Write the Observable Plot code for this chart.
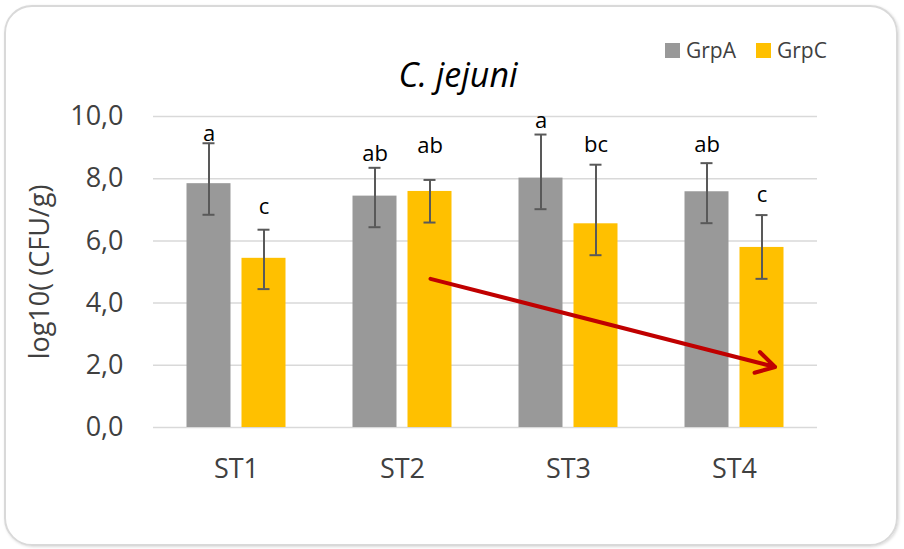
<!DOCTYPE html>
<html><head><meta charset="utf-8">
<script src="https://cdn.jsdelivr.net/npm/d3@7"></script>
<script src="https://cdn.jsdelivr.net/npm/@observablehq/plot@0.6"></script>
<style>
body{margin:0;background:#fff;font-family:"Open Sans",sans-serif;}
#wrap{position:relative;width:904px;height:549px;overflow:hidden;}
#box{position:absolute;left:4px;top:5px;width:890px;height:537px;border:2px solid #d9d9d9;border-radius:28px;box-shadow:1px 1px 3px rgba(0,0,0,0.15);}
#header{position:relative;height:100px;}
#title{position:absolute;left:0;width:916px;top:57px;text-align:center;font-style:italic;font-size:34px;line-height:34px;color:#000;}
#legend{position:absolute;left:665px;top:40px;display:flex;align-items:center;font-size:21px;line-height:21px;color:#404040;}
.sw{width:15px;height:15px;display:inline-block;margin-right:6px;}
#chart{position:relative;}
</style></head>
<body><div id="wrap"><div id="box"></div><div id="header"><div id="legend"></div><div id="title">C. jejuni</div></div><div id="chart"></div></div>
<script>
const categories = ["ST1", "ST2", "ST3", "ST4"];
const groups = ["GrpA", "GrpC"];
const groupColors = ["#999999", "#FFC000"];
const grpA = [7.84, 7.44, 8.02, 7.58];
const grpC = [5.44, 7.59, 6.55, 5.79];
const grpALow = [6.84, 6.44, 7.02, 6.57];
const grpAHigh = [9.14, 8.35, 9.42, 8.50];
const grpCLow = [4.45, 6.59, 5.54, 4.78];
const grpCHigh = [6.36, 7.96, 8.45, 6.83];
const grpALetters = ["a", "ab", "a", "ab"];
const grpCLetters = ["c", "ab", "bc", "c"];
const grpALetterY = [9.45, 8.81, 9.87, 9.10];
const grpCLetterY = [7.10, 9.05, 9.10, 7.49];
const yTicks = [0, 2, 4, 6, 8, 10];
const arrowX = ["ST2", "ST4"];
const arrowY = [4.78, 2.05];

// legend
const legend = document.getElementById("legend");
groups.forEach((g, i) => {
  const sw = document.createElement("span");
  sw.className = "sw"; sw.style.background = groupColors[i];
  const t = document.createElement("span");
  t.textContent = g;
  if (i > 0) sw.style.marginLeft = "20px";
  legend.appendChild(sw); legend.appendChild(t);
});

const series = [
  {values: grpA, low: grpALow, high: grpAHigh, letters: grpALetters, ly: grpALetterY},
  {values: grpC, low: grpCLow, high: grpCHigh, letters: grpCLetters, ly: grpCLetterY}
];
const offsets = [-27.5, 27.5];

const groupMarks = series.flatMap((s, gi) => {
  const d = categories.map((c, i) => ({cat: c, value: s.values[i], lo: s.low[i], hi: s.high[i], letter: s.letters[i], ly: s.ly[i]}));
  const dx = offsets[gi];
  return [
    Plot.barY(d, {x: "cat", y: "value", fill: groupColors[gi], dx, insetLeft: 61, insetRight: 61}),
    Plot.ruleX(d, {x: "cat", y1: "lo", y2: "hi", dx, stroke: "#595959", strokeWidth: 2}),
    Plot.tickY(d, {x: "cat", y: "lo", dx, insetLeft: 77, insetRight: 77, stroke: "#595959", strokeWidth: 2}),
    Plot.tickY(d, {x: "cat", y: "hi", dx, insetLeft: 77, insetRight: 77, stroke: "#595959", strokeWidth: 2}),
    Plot.text(d, {x: "cat", y: "ly", text: "letter", dx, fontSize: 22, fill: "#000"})
  ];
});

const chart = Plot.plot({
  width: 904, height: 420,
  marginLeft: 153, marginRight: 87, marginTop: 16, marginBottom: 93,
  style: {fontFamily: "Open Sans", fontSize: "27px", color: "#404040", background: "transparent", overflow: "visible"},
  x: {domain: categories, padding: 0, label: null, tickSize: 0, tickPadding: 31},
  y: {domain: [0, 10], ticks: yTicks, tickFormat: d => d.toFixed(1).replace(".", ","), tickSize: 0, tickPadding: 30,
      label: "log10( (CFU/g)", labelAnchor: "center", labelOffset: 124, labelArrow: "none"},
  marks: [
    Plot.ruleY(yTicks, {stroke: "#d9d9d9", strokeWidth: 1.5}),
    ...groupMarks,
    Plot.arrow([0], {x1: () => arrowX[0], x2: () => arrowX[1], y1: () => arrowY[0], y2: () => arrowY[1],
      dx: 28, stroke: "#C00000", strokeWidth: 4, insetEnd: -13, headLength: 8})
  ]
});
document.getElementById("chart").appendChild(chart);
</script>
</body></html>
